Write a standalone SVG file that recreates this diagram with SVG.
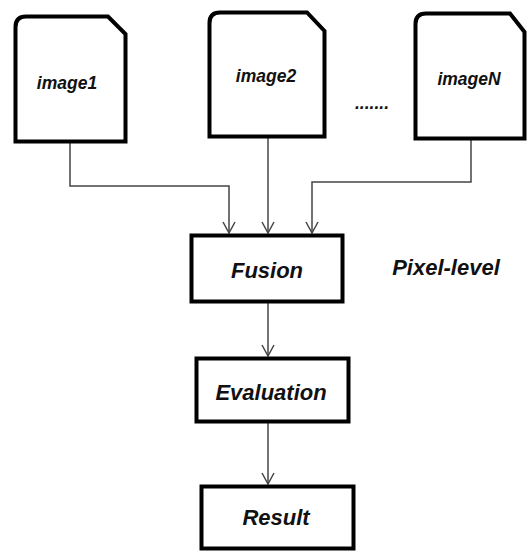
<svg xmlns="http://www.w3.org/2000/svg" width="528" height="552" viewBox="0 0 528 552">
<defs>
<style>
.card,.box{fill:#fff;stroke:#000;stroke-width:4;stroke-linejoin:miter}
.conn{fill:none;stroke:#444;stroke-width:1.5}
.lbl{font-family:"Liberation Sans",Arial,sans-serif;font-weight:bold;font-style:italic;fill:#111;text-anchor:middle}
.sm{font-size:17.5px}
.lg{font-size:22px}
</style>
<marker id="arr" markerWidth="14" markerHeight="14" refX="12" refY="7" orient="auto" markerUnits="userSpaceOnUse" viewBox="0 0 14 14">
<path d="M1,1 L12,7 L1,13" fill="none" stroke="#444" stroke-width="1.5"/>
</marker>
</defs>
<rect width="528" height="552" fill="#fff"/>
<g id="connectors">
<path class="conn" d="M70,143 V186 H229 V233" marker-end="url(#arr)"/>
<path class="conn" d="M268,138 V233" marker-end="url(#arr)"/>
<path class="conn" d="M471,140 V182 H312 V233" marker-end="url(#arr)"/>
<path class="conn" d="M268,303 V356" marker-end="url(#arr)"/>
<path class="conn" d="M268,423 V484" marker-end="url(#arr)"/>
</g>
<g id="image1">
<path class="card" d="M15.5,141.5 V27 Q15.5,16.5 26,16.5 H108 L125.5,34 V141.5 Z"/>
<text class="lbl sm" x="67" y="89">image1</text>
</g>
<g id="image2">
<path class="card" d="M209.5,136.5 V23 Q209.5,12.5 220,12.5 H307 L324.5,31 V136.5 Z"/>
<text class="lbl sm" x="266" y="82">image2</text>
</g>
<g id="dots">
<text class="lbl sm" x="372" y="109">.......</text>
</g>
<g id="imageN">
<path class="card" d="M415.5,138.5 V24 Q415.5,13.5 426,13.5 H510 L524.5,32 V138.5 Z"/>
<text class="lbl sm" x="469" y="85">imageN</text>
</g>
<g id="fusion">
<rect class="box" x="191.5" y="235.5" width="151" height="66"/>
<text class="lbl lg" x="267" y="278">Fusion</text>
</g>
<g id="pixel-level">
<text class="lbl lg" x="446" y="275">Pixel-level</text>
</g>
<g id="evaluation">
<rect class="box" x="196.5" y="358.5" width="152" height="63"/>
<text class="lbl lg" x="271" y="400">Evaluation</text>
</g>
<g id="result">
<rect class="box" x="201.5" y="486.5" width="152" height="62"/>
<text class="lbl lg" x="276" y="525">Result</text>
</g>
</svg>
